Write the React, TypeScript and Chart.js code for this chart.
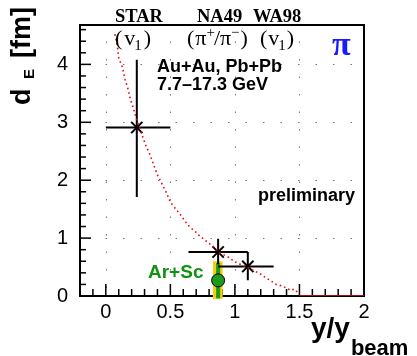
import { useEffect, useRef } from 'react';
import { Chart, registerables } from 'chart.js';
Chart.register(...registerables);

// Red model curve
const curveX = [0.07, 0.09, 0.10, 0.13, 0.15, 0.17, 0.19, 0.21, 0.23, 0.25, 0.29, 0.31, 0.34, 0.37, 0.40, 0.43, 0.47, 0.50, 0.55, 0.58, 0.61, 0.65, 0.69, 0.72, 0.76, 0.80, 0.84, 0.88, 0.96, 0.99, 1.04, 1.10, 1.19, 1.23, 1.28, 1.32, 1.37, 1.43, 1.46, 1.50];
const curveY = [4.52, 4.31, 4.11, 3.94, 3.73, 3.59, 3.40, 3.27, 3.11, 2.98, 2.72, 2.60, 2.45, 2.27, 2.09, 1.96, 1.78, 1.62, 1.48, 1.40, 1.30, 1.19, 1.12, 1.05, 0.98, 0.91, 0.84, 0.75, 0.66, 0.60, 0.55, 0.49, 0.39, 0.33, 0.26, 0.20, 0.17, 0.10, 0.12, 0.03];
const tailX = [1.5, 2.0];
const tailY = [0.0, 0.0];

// Experimental points
const expNames = ['STAR', 'NA49', 'WA98'];
const expX = [0.24, 0.87, 1.10];
const expY = [2.91, 0.76, 0.51];
const expXLo = [0.0, 0.64, 0.87];
const expXHi = [0.5, 1.10, 1.30];
const expYLo = [1.71, 0.55, 0.27];
const expYHi = [4.08, 0.99, 0.76];

// Ar+Sc preliminary
const arScX = [0.87];
const arScY = [0.27];
const arScYLo = [-0.04];
const arScYHi = [0.57];
const arScSysXLo = [0.83];
const arScSysXHi = [0.905];
const arScSysYLo = [-0.05];
const arScSysYHi = [0.6];

const xTicks = [0, 0.5, 1, 1.5, 2];
const yTicks = [0, 1, 2, 3, 4];
const xGrid = [0, 0.5, 1, 1.5];
const yGrid = [1, 2, 3, 4];
const X_MIN = -0.2, X_MAX = 2.0, Y_MIN = 0, Y_MAX = 4.68;

const SANS = '"Liberation Sans", Arial, sans-serif';
const SERIF = '"Liberation Serif", "Times New Roman", serif';

type Piece = { t: string; font: string; dy?: number; gap?: number };
function drawPieces(ctx: CanvasRenderingContext2D, x: number, y: number, pieces: Piece[], color = '#000') {
  let cx = x;
  ctx.fillStyle = color;
  ctx.textAlign = 'left';
  ctx.textBaseline = 'alphabetic';
  for (const p of pieces) {
    ctx.font = p.font;
    cx += p.gap || 0;
    ctx.fillText(p.t, cx, y + (p.dy || 0));
    cx += ctx.measureText(p.t).width;
  }
}

const decorPlugin = {
  id: 'decor',
  beforeDatasetsDraw(chart: any) {
    const ctx = chart.ctx as CanvasRenderingContext2D;
    const xs = chart.scales.x;
    const ys = chart.scales.y;
    const { left, right, top, bottom } = chart.chartArea;
    ctx.save();
    // dotted grid
    ctx.strokeStyle = '#777';
    ctx.lineWidth = 1;
    ctx.setLineDash([1.5, 16]);
    for (const g of xGrid) {
      const px = Math.round(xs.getPixelForValue(g)) + 0.5;
      ctx.beginPath(); ctx.moveTo(px, bottom - 8); ctx.lineTo(px, top); ctx.stroke();
    }
    for (const g of yGrid) {
      const py = Math.round(ys.getPixelForValue(g)) + 0.5;
      ctx.beginPath(); ctx.moveTo(left + 8, py); ctx.lineTo(right, py); ctx.stroke();
    }
    ctx.setLineDash([]);
    // frame
    ctx.strokeStyle = '#000';
    ctx.lineWidth = 2;
    ctx.strokeRect(left, top, right - left, bottom - top);
    // inward ticks
    ctx.lineWidth = 1.5;
    for (let i = 0; i <= 46; i++) {
      const v = i * 0.1;
      if (v > Y_MAX) break;
      const py = ys.getPixelForValue(v);
      const major = Math.abs(v - Math.round(v)) < 1e-6;
      if (i % 2 !== 0 && !major) continue;
      ctx.beginPath(); ctx.moveTo(left, py); ctx.lineTo(left + (major ? 11 : 6), py); ctx.stroke();
    }
    for (let i = -2; i <= 20; i++) {
      const v = i * 0.1;
      const px = xs.getPixelForValue(v);
      const major = i % 5 === 0;
      ctx.beginPath(); ctx.moveTo(px, bottom); ctx.lineTo(px, bottom - (major ? 12 : 7)); ctx.stroke();
    }
    // Ar+Sc systematic band + stat error
    ctx.save();
    ctx.beginPath();
    ctx.rect(left, top, right - left, bottom - top + 4);
    ctx.clip();
    for (let i = 0; i < arScX.length; i++) {
      const x0 = xs.getPixelForValue(arScSysXLo[i]);
      const x1 = xs.getPixelForValue(arScSysXHi[i]);
      const y0 = ys.getPixelForValue(arScSysYHi[i]);
      const y1 = ys.getPixelForValue(arScSysYLo[i]);
      ctx.fillStyle = '#f2d10a';
      ctx.fillRect(x0, y0, x1 - x0, y1 - y0);
      ctx.strokeStyle = '#1b9a1b';
      ctx.lineWidth = 4;
      const px = xs.getPixelForValue(arScX[i]);
      ctx.beginPath();
      ctx.moveTo(px, ys.getPixelForValue(arScYLo[i]));
      ctx.lineTo(px, ys.getPixelForValue(arScYHi[i]));
      ctx.stroke();
    }
    ctx.restore();
    // experiment error bars
    ctx.strokeStyle = '#000';
    ctx.lineWidth = 2;
    for (let i = 0; i < expX.length; i++) {
      const px = xs.getPixelForValue(expX[i]);
      const py = ys.getPixelForValue(expY[i]);
      ctx.beginPath();
      ctx.moveTo(xs.getPixelForValue(expXLo[i]), py);
      ctx.lineTo(xs.getPixelForValue(expXHi[i]), py);
      ctx.moveTo(px, ys.getPixelForValue(expYLo[i]));
      ctx.lineTo(px, ys.getPixelForValue(expYHi[i]));
      ctx.stroke();
    }
    ctx.restore();
  },
  afterDraw(chart: any) {
    const ctx = chart.ctx as CanvasRenderingContext2D;
    ctx.save();
    // experiment headers
    ctx.fillStyle = '#000';
    ctx.textBaseline = 'alphabetic';
    ctx.textAlign = 'left';
    ctx.font = `bold 18.5px ${SERIF}`;
    ctx.fillText(expNames[0], 115, 21.5);
    ctx.fillText(expNames[1], 197, 21.5);
    ctx.fillText(expNames[2], 253, 21.5);
    const f22 = `22px ${SERIF}`;
    const f14 = `15px ${SERIF}`;
    drawPieces(ctx, 115, 45, [
      { t: '(', font: f22 }, { t: 'v', font: f22, gap: 2 }, { t: '1', font: f14, dy: 5, gap: -1 }, { t: ')', font: f22, gap: 2 },
    ]);
    drawPieces(ctx, 187, 45, [
      { t: '(', font: f22 }, { t: 'π', font: f22, gap: 1 }, { t: '+', font: f14, dy: -8 }, { t: '/', font: f22, gap: -1 },
      { t: 'π', font: f22 }, { t: '−', font: f14, dy: -8 }, { t: ')', font: f22, gap: 1 },
    ]);
    drawPieces(ctx, 260, 45, [
      { t: '(', font: f22 }, { t: 'v', font: f22, gap: 1 }, { t: '1', font: f14, dy: 5, gap: -1 }, { t: ')', font: f22, gap: 1 },
    ]);
    // blue pi
    ctx.fillStyle = '#1a1aff';
    ctx.font = `bold 34px ${SERIF}`;
    ctx.fillText('π', 332, 55);
    // system text
    ctx.fillStyle = '#000';
    ctx.font = `bold 18px ${SANS}`;
    ctx.fillText('Au+Au, Pb+Pb', 157, 72);
    ctx.fillText('7.7–17.3 GeV', 157, 90);
    ctx.textAlign = 'right';
    ctx.fillText('preliminary', 355, 201);
    ctx.textAlign = 'left';
    ctx.fillStyle = '#129212';
    ctx.font = `bold 19px ${SANS}`;
    ctx.fillText('Ar+Sc', 148, 278);
    // x title
    drawPieces(ctx, 311, 337, [
      { t: 'y/y', font: `bold 28px ${SANS}` },
      { t: 'beam', font: `bold 22px ${SANS}`, dy: 18, gap: 1 },
    ]);
    // y title
    ctx.save();
    ctx.translate(30, 105);
    ctx.rotate(-Math.PI / 2);
    ctx.fillStyle = '#000';
    ctx.textAlign = 'left';
    ctx.font = `bold 27px ${SANS}`;
    ctx.fillText('d', 0, 0);
    ctx.font = `bold 15px ${SANS}`;
    ctx.fillText('E', 26, 4);
    ctx.font = `bold 27px ${SANS}`;
    ctx.fillText('[fm]', 47, 0);
    ctx.restore();
    ctx.restore();
  },
};

export default function App() {
  const ref = useRef<HTMLCanvasElement | null>(null);
  useEffect(() => {
    if (!ref.current) return;
    const tickFont = { family: SANS, size: 20 };
    const chart = new Chart(ref.current, {
      type: 'scatter',
      data: {
        datasets: [
          {
            data: curveX.map((x, i) => ({ x, y: curveY[i] })),
            showLine: true,
            borderColor: '#e01010',
            borderWidth: 1.6,
            borderDash: [1.6, 3],
            pointRadius: 0,
            tension: 0,
          } as any,
          {
            data: tailX.map((x, i) => ({ x, y: tailY[i] })),
            showLine: true,
            borderColor: '#e01010',
            borderWidth: 1.6,
            pointRadius: 0,
          } as any,
          {
            data: expX.map((x, i) => ({ x, y: expY[i] })),
            pointStyle: 'crossRot',
            pointRadius: 8,
            borderColor: '#000',
            borderWidth: 2,
          } as any,
          {
            data: arScX.map((x, i) => ({ x, y: arScY[i] })),
            pointStyle: 'circle',
            pointRadius: 6.5,
            backgroundColor: '#1b9a1b',
            borderColor: '#000',
            borderWidth: 1,
          } as any,
        ],
      },
      options: {
        animation: false,
        responsive: false,
        maintainAspectRatio: false,
        layout: { padding: { top: 25, right: 53, left: 0, bottom: 0 } },
        plugins: { legend: { display: false }, tooltip: { enabled: false } },
        scales: {
          x: {
            type: 'linear',
            min: X_MIN,
            max: X_MAX,
            afterBuildTicks: (s: any) => { s.ticks = xTicks.map((v) => ({ value: v })); },
            afterFit: (s: any) => { s.height = 60; },
            grid: { display: false, drawTicks: false },
            border: { display: false },
            ticks: { font: tickFont, color: '#000', padding: 4, maxRotation: 0, autoSkip: false, callback: (v: any) => String(v) },
          },
          y: {
            type: 'linear',
            min: Y_MIN,
            max: Y_MAX,
            afterBuildTicks: (s: any) => { s.ticks = yTicks.map((v) => ({ value: v })); },
            afterFit: (s: any) => { s.width = 80; },
            grid: { display: false, drawTicks: false },
            border: { display: false },
            ticks: { font: tickFont, color: '#000', padding: 12, autoSkip: false, callback: (v: any) => String(v) },
          },
        },
      } as any,
      plugins: [decorPlugin],
    });
    return () => chart.destroy();
  }, []);
  return (
    <div style={{ position: 'fixed', left: 0, top: 0, width: 417, height: 356, background: '#fff' }}>
      <canvas ref={ref} width={417} height={356} style={{ display: 'block', width: 417, height: 356 }} />
    </div>
  );
}
